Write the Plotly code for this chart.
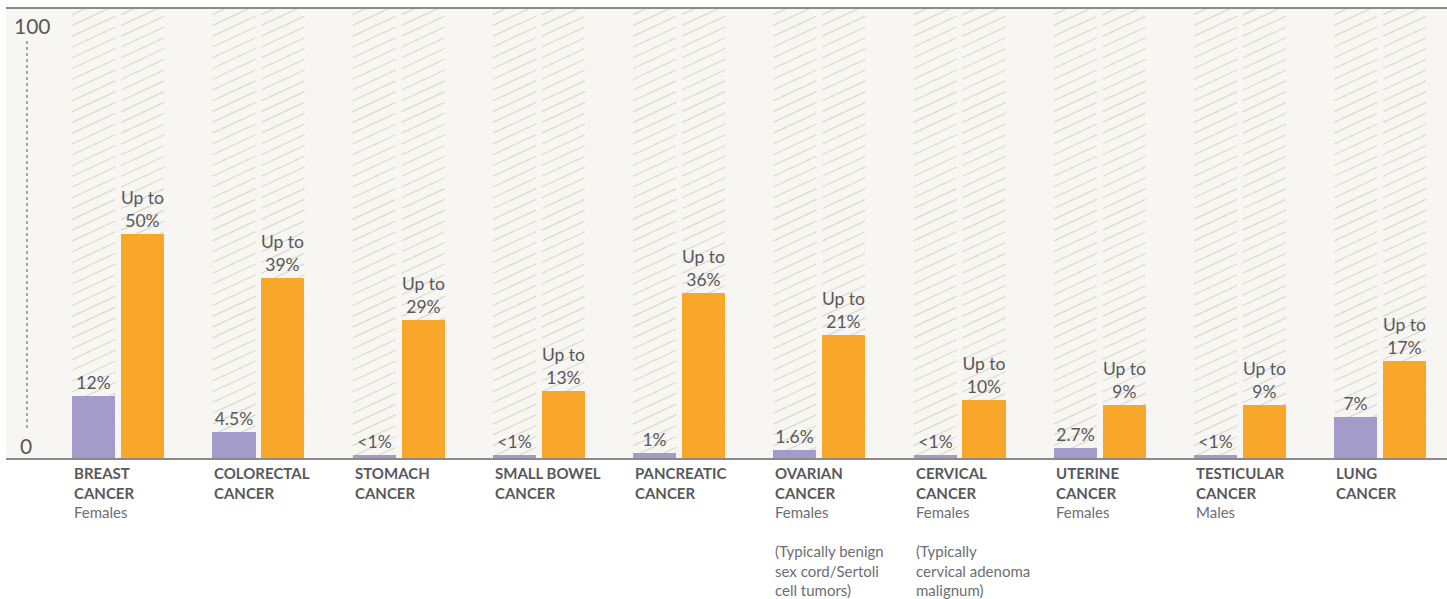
import plotly.graph_objects as go

# ---- data ----
categories = ["BREAST<br>CANCER", "COLORECTAL<br>CANCER", "STOMACH<br>CANCER",
              "SMALL BOWEL<br>CANCER", "PANCREATIC<br>CANCER", "OVARIAN<br>CANCER",
              "CERVICAL<br>CANCER", "UTERINE<br>CANCER", "TESTICULAR<br>CANCER",
              "LUNG<br>CANCER"]
subtitles = ["Females", "", "", "", "",
             "Females<br><br>(Typically benign<br>sex cord/Sertoli<br>cell tumors)",
             "Females<br><br>(Typically<br>cervical adenoma<br>malignum)",
             "Females", "Males", ""]
# bar heights as drawn in the picture (percent of the 0-100 column)
general_values = [13.9, 5.7, 0.6, 0.6, 1.2, 1.7, 0.6, 2.3, 0.6, 9.1]
peutz_values = [49.8, 40.0, 30.7, 15.0, 36.7, 27.5, 13.0, 11.7, 11.7, 21.5]
general_labels = ["12%", "4.5%", "<1%", "<1%", "1%", "1.6%", "<1%", "2.7%", "<1%", "7%"]
peutz_labels = ["Up to<br>50%", "Up to<br>39%", "Up to<br>29%", "Up to<br>13%",
                "Up to<br>36%", "Up to<br>21%", "Up to<br>10%", "Up to<br>9%",
                "Up to<br>9%", "Up to<br>17%"]
axis_top_label = "100"
axis_bottom_label = "0"

# ---- style ----
FONT = "Lato"
TXT = "#58595B"
SUB = "#6D6E71"
PURPLE = "#A39BCA"
ORANGE = "#F9A72B"
BG = "#F7F6F2"
HATCH = "#DAD8D1"
W = 0.307
OFF_P = -0.3285
OFF_O = 0.0205
RISE = 4.45
STEP = 2.4

idx = list(range(len(categories)))

fig = go.Figure()
fig.add_bar(x=idx, y=general_values, offset=OFF_P, width=W,
            marker=dict(color=PURPLE, line=dict(width=0)),
            text=general_labels, textposition="outside", constraintext="none",
            textfont=dict(family=FONT, size=17.5, color=TXT), cliponaxis=False,
            hoverinfo="skip", showlegend=False)
fig.add_bar(x=idx, y=peutz_values, offset=OFF_O, width=W,
            marker=dict(color=ORANGE, line=dict(width=0)),
            text=peutz_labels, textposition="outside", constraintext="none",
            textfont=dict(family=FONT, size=17.5, color=TXT), cliponaxis=False,
            hoverinfo="skip", showlegend=False)

# hatched background columns
segs = []
for i in idx:
    for off in (OFF_P, OFF_O):
        xl = i + off
        xr = xl + W
        y = -RISE
        while y < 100 + STEP:
            segs.append(f"M{xl:.4f},{y:.3f} L{xr:.4f},{y + RISE:.3f}")
            y += STEP
fig.add_shape(type="path", path=" ".join(segs), xref="x", yref="y",
              line=dict(color=HATCH, width=1.2), layer="below")

# dotted y indicator
fig.add_shape(type="line", xref="paper", xsizemode="pixel", xanchor=0, x0=21, x1=21,
              yref="paper", y0=0.067, y1=0.933,
              line=dict(color="#7A7A7A", width=1.3, dash="dot"))

annotations = []
for i in idx:
    txt = f"<b>{categories[i]}</b>"
    if subtitles[i]:
        txt += f"<br><span style='color:{SUB}'>{subtitles[i]}</span>"
    annotations.append(dict(text=txt, x=i + OFF_P, xref="x", y=0, yref="paper",
                            xanchor="left", yanchor="top", align="left", yshift=-4,
                            showarrow=False, font=dict(family=FONT, size=15, color=TXT)))
annotations.append(dict(text=axis_top_label, x=0, xref="paper", xshift=26.5, xanchor="center",
                        y=1, yref="paper", yshift=-16, yanchor="middle", showarrow=False,
                        font=dict(family=FONT, size=21, color=TXT)))
annotations.append(dict(text=axis_bottom_label, x=0, xref="paper", xshift=20, xanchor="center",
                        y=0, yref="paper", yshift=13, yanchor="middle", showarrow=False,
                        font=dict(family=FONT, size=21, color=TXT)))

fig.update_layout(
    width=1447, height=599,
    margin=dict(l=6, r=0, t=9, b=141),
    paper_bgcolor="white", plot_bgcolor=BG,
    barmode="overlay", bargap=0,
    annotations=annotations,
    xaxis=dict(range=[-0.801, 9.476], showgrid=False, zeroline=False, showticklabels=False,
               showline=True, mirror=True, linecolor="#8A8A8A", linewidth=2, fixedrange=True),
    yaxis=dict(range=[0, 100], showgrid=False, zeroline=False, showticklabels=False,
               showline=False, fixedrange=True),
    font=dict(family=FONT, color=TXT),
)

fig.write_html("out.html", config={"displayModeBar": False},
               post_script="document.body.style.margin='0';")
